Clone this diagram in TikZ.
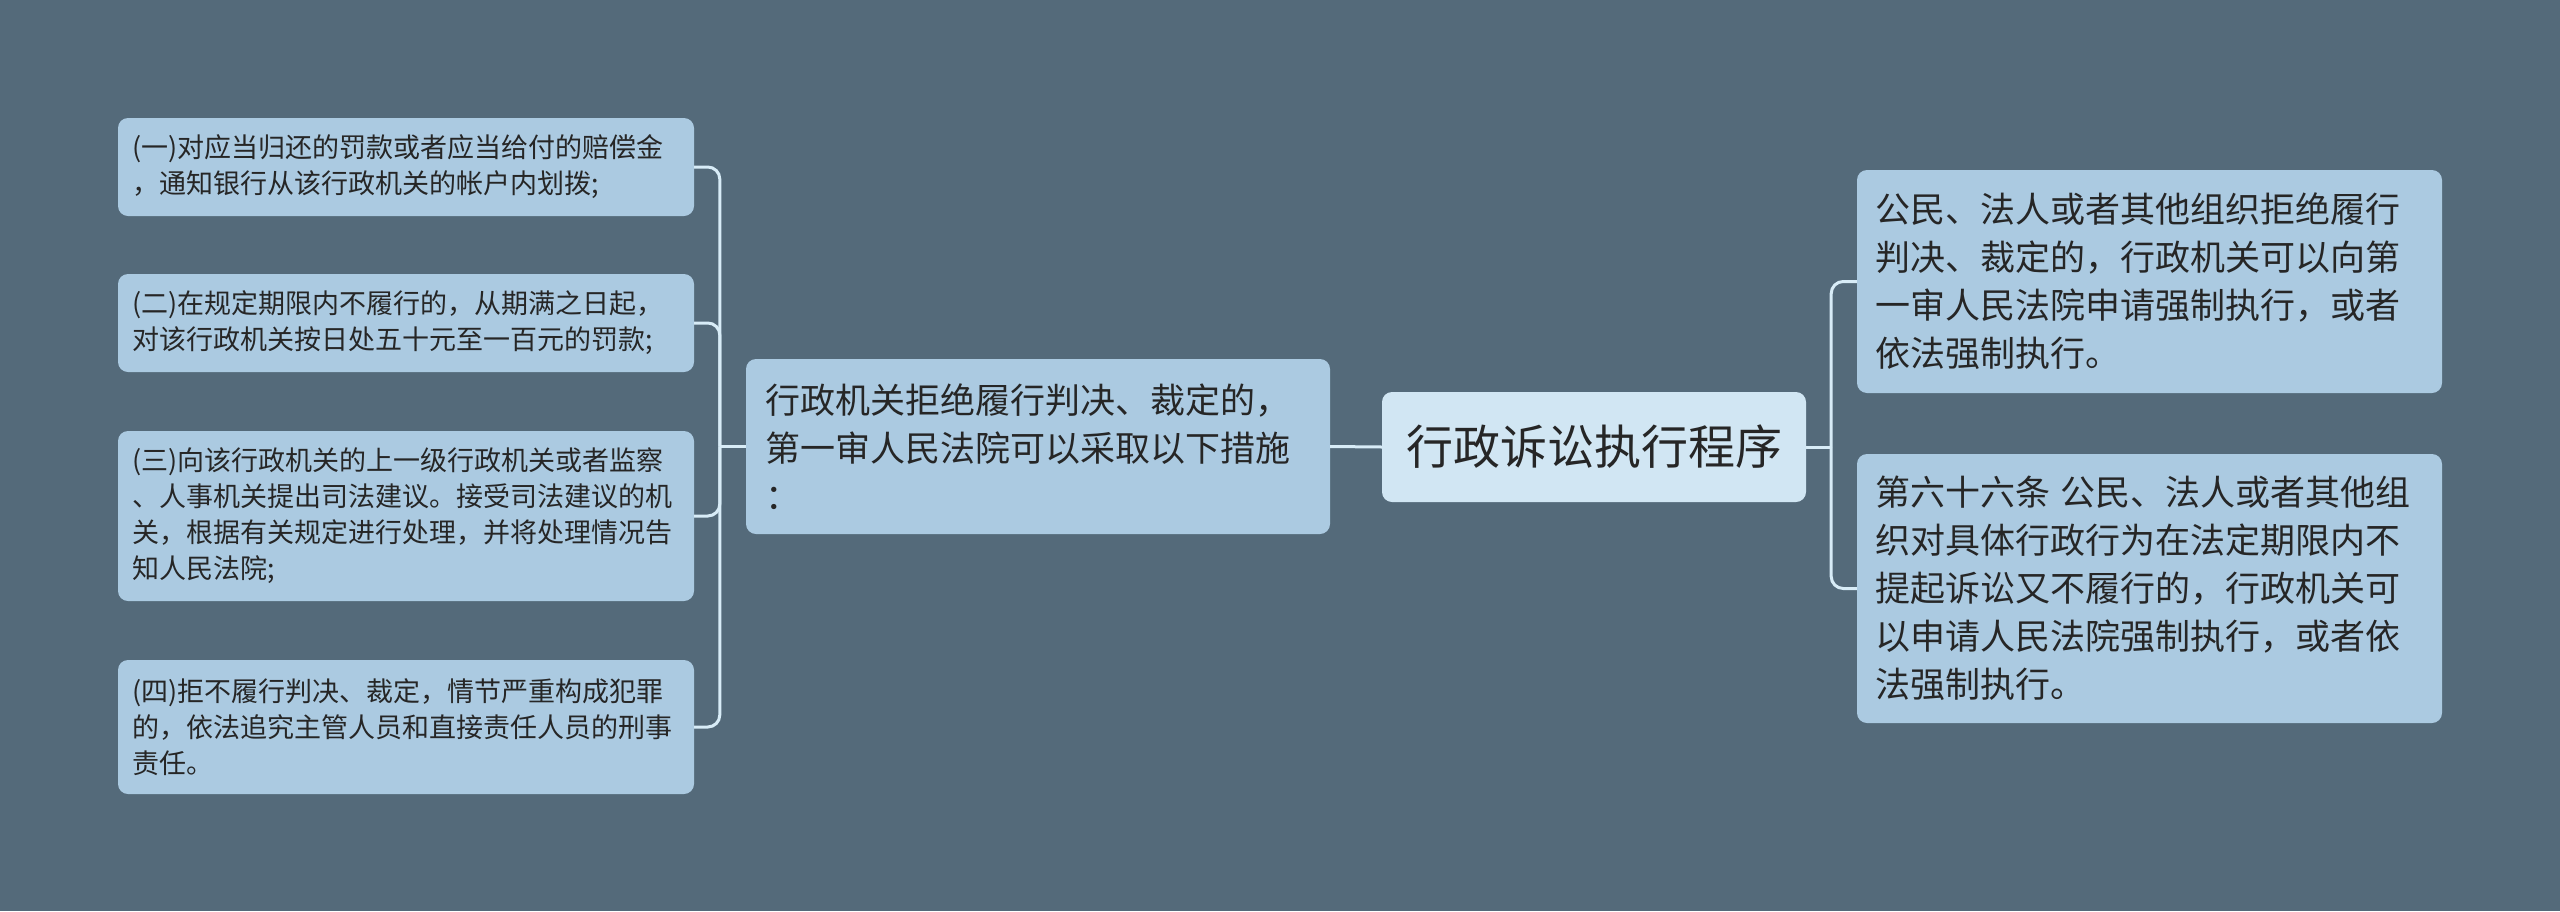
\documentclass[tikz,border=0pt]{standalone}
\usepackage{fontspec}
\setmainfont{Noto Sans CJK SC}
\usetikzlibrary{calc}
\definecolor{bgc}{HTML}{546A7A}
\definecolor{boxc}{HTML}{ABCAE1}
\definecolor{rootc}{HTML}{D1E6F3}
\definecolor{linec}{HTML}{D8ECF7}
\definecolor{txtc}{HTML}{262626}
\tikzset{
  leafbox/.style={fill=boxc, rounded corners=10pt, text=txtc, align=left,
    inner xsep=14pt, inner ysep=0pt, text width=548pt, minimum height=#1,
    font=\fontsize{27pt}{36pt}\selectfont},
  bigbox/.style={fill=boxc, rounded corners=10pt, text=txtc, align=left,
    inner xsep=18pt, inner ysep=0pt, text width=549pt, minimum height=#1,
    font=\fontsize{35pt}{48pt}\selectfont},
  rootbox/.style={fill=rootc, rounded corners=10pt, text=txtc, align=center,
    inner sep=0pt, minimum width=424pt, minimum height=110pt,
    font=\fontsize{47pt}{56pt}\selectfont},
  conn/.style={draw=linec, line width=3pt, rounded corners=12pt}
}
\begin{document}
\begin{tikzpicture}[x=1pt,y=-1pt]
\useasboundingbox (0,0) rectangle (2560,911);
\fill[bgc] (0,0) rectangle (2560,911);

\node[leafbox=98pt] (b1) at (406,167) {(一)对应当归还的罚款或者应当给付的赔偿金\\，通知银行从该行政机关的帐户内划拨;};
\node[leafbox=98pt] (b2) at (406,323) {(二)在规定期限内不履行的，从期满之日起，\\对该行政机关按日处五十元至一百元的罚款;};
\node[leafbox=170pt] (b3) at (406,516) {(三)向该行政机关的上一级行政机关或者监察\\、人事机关提出司法建议。接受司法建议的机\\关，根据有关规定进行处理，并将处理情况告\\知人民法院;};
\node[leafbox=134pt] (b4) at (406,727) {(四)拒不履行判决、裁定，情节严重构成犯罪\\的，依法追究主管人员和直接责任人员的刑事\\责任。};

\node[bigbox=175pt, text width=546pt, inner xsep=19pt] (mid) at (1038,446.5) {行政机关拒绝履行判决、裁定的，\\第一审人民法院可以采取以下措施\\：};

\node[rootbox] (root) at (1594,447) {行政诉讼执行程序};

\node[bigbox=223pt] (r1) at (2149.5,281.5) {公民、法人或者其他组织拒绝履行\\判决、裁定的，行政机关可以向第\\一审人民法院申请强制执行，或者\\依法强制执行。};
\node[bigbox=269pt] (r2) at (2149.5,588.5) {第六十六条\hspace{0.3em}公民、法人或者其他组\\织对具体行政行为在法定期限内不\\提起诉讼又不履行的，行政机关可\\以申请人民法院强制执行，或者依\\法强制执行。};

\coordinate (lj) at ($(mid.west)+(-26pt,0)$);
\coordinate (rj) at ($(root.east)+(25pt,0)$);

\draw[conn] (mid.east) -- (root.west);
\draw[conn] (mid.west) -- (lj);
\foreach \n in {b1,b2,b3,b4} \draw[conn] (lj) |- (\n.east);
\draw[conn] (root.east) -- (rj);
\foreach \n in {r1,r2} \draw[conn] (rj) |- (\n.west);
\end{tikzpicture}
\end{document}
